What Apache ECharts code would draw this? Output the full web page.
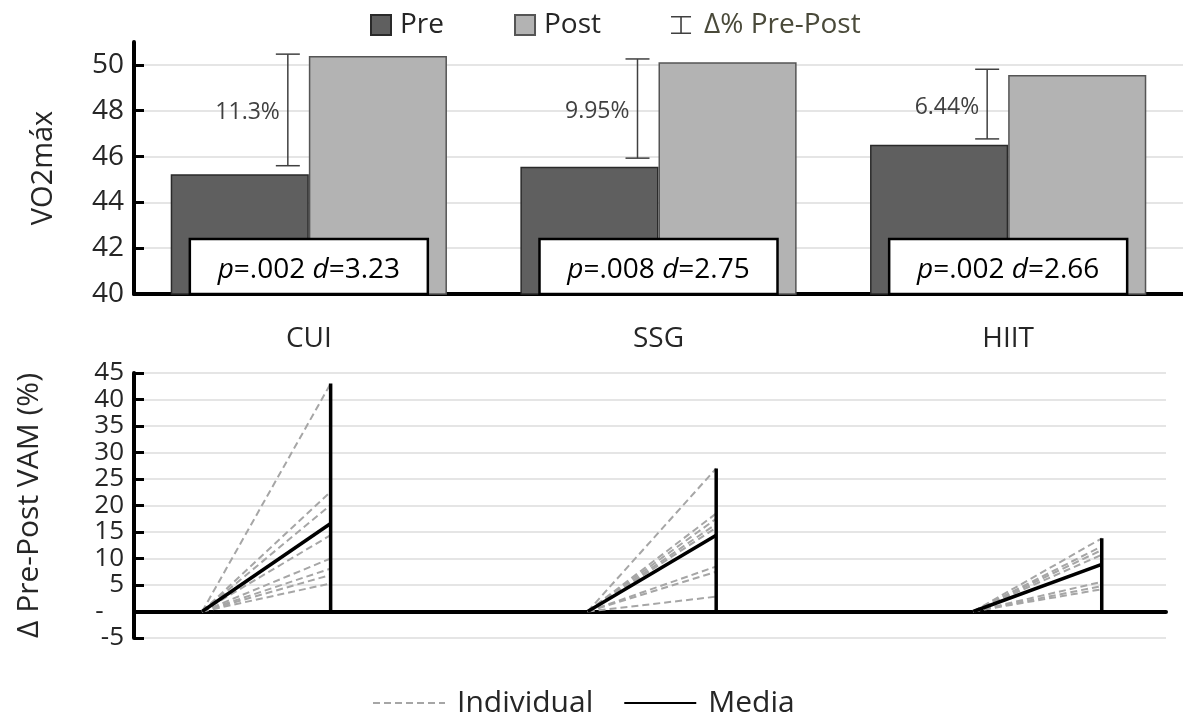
<!DOCTYPE html>
<html><head><meta charset="utf-8">
<script src="https://cdn.jsdelivr.net/npm/echarts@6/dist/echarts.min.js"></script>
<style>html,body{margin:0;padding:0;background:#fff}#c{width:1183px;height:717px}</style>
</head><body><div id="c"></div>
<script>
// ---- data ----
const groups = ['CUI', 'SSG', 'HIIT'];
const preValues = [45.23, 45.56, 46.51];
const postValues = [50.39, 50.12, 49.56];
const errLow = [45.6, 45.93, 46.77];
const errHigh = [50.47, 50.26, 49.81];
const deltaLabels = ['11.3%', '9.95%', '6.44%'];
const pValues = ['.002', '.008', '.002'];
const dValues = ['3.23', '2.75', '2.66'];

const individualCUI = [43, 22.6, 20.1, 14.4, 10.0, 8.1, 6.9, 5.3];
const individualSSG = [27, 18.5, 17.5, 16.5, 15.8, 8.5, 7.5, 2.8];
const individualHIIT = [13.8, 12.3, 11.6, 10.7, 5.6, 4.8, 4.2];
const mediaValues = [16.6, 14.4, 8.9];
const preX = [0, 3, 6];
const postX = [1, 4, 7];

// ---- styles ----
const FONT = 'Open Sans';
const TXT = '#262626';

const chart = echarts.init(document.getElementById('c'));

const individuals = [individualCUI, individualSSG, individualHIIT];
const lineSeries = [];
individuals.forEach((vals, g) => {
  vals.forEach(v => {
    lineSeries.push({
      type: 'line', name: 'Individual', xAxisIndex: 1, yAxisIndex: 1,
      data: [[preX[g], 0], [postX[g], v]], symbol: 'none', silent: true, z: 2,
      itemStyle: { color: '#a6a6a6' },
      lineStyle: { color: '#a6a6a6', width: 2, type: [7, 4] }
    });
  });
});
mediaValues.forEach((v, g) => {
  lineSeries.push({
    type: 'line', name: 'Media', xAxisIndex: 1, yAxisIndex: 1,
    data: [[preX[g], 0], [postX[g], v]], symbol: 'none', silent: true, z: 3,
    itemStyle: { color: '#000' },
    lineStyle: { color: '#000', width: 3.5 }
  });
});
individuals.forEach((vals, g) => {
  lineSeries.push({
    type: 'line', name: 'HighLow', xAxisIndex: 1, yAxisIndex: 1,
    data: [[postX[g], 0], [postX[g], Math.max(...vals)]], symbol: 'none', silent: true, z: 4,
    itemStyle: { color: '#000' },
    lineStyle: { color: '#000', width: 3.5 }
  });
});

const option = {
  animation: false,
  textStyle: { fontFamily: FONT },
  legend: [
    {
      left: 365, top: 6, itemWidth: 20, itemHeight: 20, itemGap: 70,
      textStyle: { fontSize: 28, color: TXT, fontFamily: FONT, padding: [0, 0, 0, 4] },
      data: [
        { name: 'Pre', icon: 'rect' },
        { name: 'Post', icon: 'rect' },
        { name: 'Δ% Pre-Post', icon: 'path://M0,0h20v1.6h-20z M9.2,0h1.6v18h-1.6z M0,16.4h20v1.6h-20z',
          textStyle: { color: '#4a4a3a', padding: [0, 0, 0, 8] } }
      ]
    },
    {
      left: 367, top: 683, itemWidth: 72, itemHeight: 14, itemGap: 30,
      itemStyle: { opacity: 0 },
      textStyle: { fontSize: 30, color: TXT, fontFamily: FONT, padding: [0, 0, 0, 7] },
      data: ['Individual', 'Media']
    }
  ],
  grid: [
    { left: 134, right: -3, top: 42, bottom: 423 },
    { left: 134, right: 17, top: 373, bottom: 79 }
  ],
  xAxis: [
    {
      type: 'category', gridIndex: 0, data: groups,
      axisLine: { lineStyle: { color: '#000', width: 4 } },
      axisTick: { show: false },
      axisLabel: { fontSize: 28, color: TXT, margin: 31, fontFamily: FONT }
    },
    {
      type: 'value', gridIndex: 1, min: -0.53, max: 7.5,
      axisLine: { lineStyle: { color: '#000', width: 4 } },
      axisTick: { show: false }, axisLabel: { show: false }, splitLine: { show: false }
    }
  ],
  yAxis: [
    {
      type: 'value', gridIndex: 0, min: 40, max: 51, interval: 2,
      name: 'VO2máx', nameLocation: 'middle', nameGap: 76,
      nameTextStyle: { fontSize: 29, color: TXT, fontFamily: FONT },
      axisLine: { show: true, lineStyle: { color: '#000', width: 4 } },
      axisTick: { show: true, inside: true, length: 10, lineStyle: { color: '#000', width: 3 } },
      axisLabel: { fontSize: 28, color: TXT, margin: 10, fontFamily: FONT, showMaxLabel: false,
        formatter: v => (v === 51 ? '' : v) },
      splitLine: { lineStyle: { color: ['#dcdcdc', '#dcdcdc', '#dcdcdc', '#dcdcdc', '#dcdcdc', '#dcdcdc', 'rgba(0,0,0,0)'], width: 1.5 } }
    },
    {
      type: 'value', gridIndex: 1, min: -5, max: 45, interval: 5,
      name: 'Δ Pre-Post VAM (%)', nameLocation: 'middle', nameGap: 90,
      nameTextStyle: { fontSize: 30, color: TXT, fontFamily: FONT },
      axisLine: { show: true, onZero: false, lineStyle: { color: '#000', width: 4 } },
      axisTick: { show: true, inside: true, length: 10, lineStyle: { color: '#000', width: 3 } },
      axisLabel: { fontSize: 26, color: TXT, margin: 10, fontFamily: FONT,
        formatter: v => (v === 0 ? '-   ' : v) },
      splitLine: { lineStyle: { color: '#dcdcdc', width: 1.5 } }
    }
  ],
  series: [
    {
      type: 'bar', name: 'Pre', data: preValues, barGap: 0, barCategoryGap: '21%',
      itemStyle: { color: '#5f5f5f', borderColor: '#2a2a2a', borderWidth: 1.5 }, z: 2
    },
    {
      type: 'bar', name: 'Post', data: postValues, barGap: 0, barCategoryGap: '21%',
      itemStyle: { color: '#b3b3b3', borderColor: '#555', borderWidth: 1.5 }, z: 2
    },
    {
      type: 'custom', name: 'Δ% Pre-Post', z: 5, silent: true,
      itemStyle: { color: '#404040' },
      encode: { x: 0, y: [1, 2] },
      data: groups.map((g, i) => [i, errLow[i], errHigh[i]]),
      renderItem: function (params, api) {
        const i = params.dataIndex;
        const p1 = api.coord([api.value(0), api.value(1)]);
        const p2 = api.coord([api.value(0), api.value(2)]);
        const x = p1[0] - 21;
        const st = { stroke: '#404040', lineWidth: 1.5 };
        return {
          type: 'group', children: [
            { type: 'line', shape: { x1: x, y1: p1[1], x2: x, y2: p2[1] }, style: st },
            { type: 'line', shape: { x1: x - 12, y1: p1[1], x2: x + 12, y2: p1[1] }, style: st },
            { type: 'line', shape: { x1: x - 12, y1: p2[1], x2: x + 12, y2: p2[1] }, style: st },
            { type: 'text', style: { text: deltaLabels[i], x: x - 8, y: (p1[1] + p2[1]) / 2 + 3,
              align: 'right', verticalAlign: 'middle', fontSize: 23, fontFamily: FONT, fill: '#404040' } }
          ]
        };
      }
    },
    {
      type: 'custom', name: 'stats', z: 6, silent: true,
      data: groups.map((g, i) => [i, 40]),
      encode: { x: 0, y: 1 },
      renderItem: function (params, api) {
        const i = params.dataIndex;
        const base = api.coord([api.value(0), 40]);
        const top = api.coord([api.value(0), 42.4])[1];
        const w = 238;
        return {
          type: 'group', children: [
            { type: 'rect', shape: { x: base[0] - w / 2, y: top, width: w, height: base[1] - top },
              style: { fill: '#fff', stroke: '#000', lineWidth: 2.5 } },
            { type: 'text', style: {
              text: '{i|p}=' + pValues[i] + ' {i|d}=' + dValues[i],
              x: base[0], y: (top + base[1]) / 2 + 4, align: 'center', verticalAlign: 'middle',
              fontSize: 28, fontFamily: FONT, fill: '#000',
              rich: { i: { fontStyle: 'italic', fontSize: 28, fontFamily: FONT, fill: '#000' } }
            } }
          ]
        };
      }
    }
  ].concat(lineSeries)
};
chart.setOption(option);
</script>
</body></html>
